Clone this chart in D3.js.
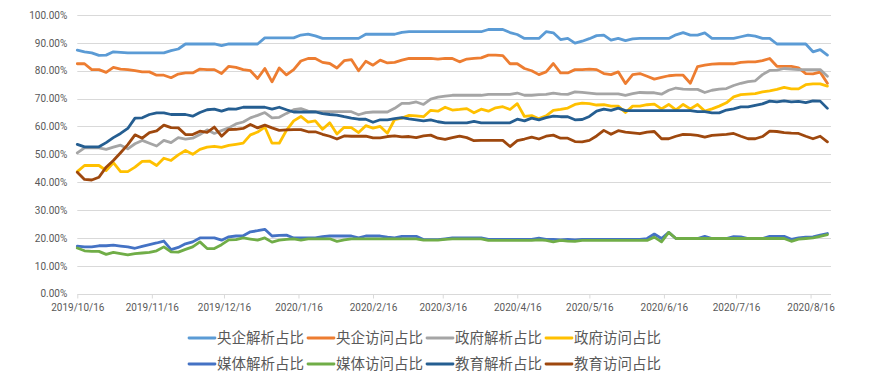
<!DOCTYPE html>
<html>
<head>
<meta charset="utf-8">
<script src="https://cdn.jsdelivr.net/npm/d3@7"></script>
<style>
  html, body { margin: 0; padding: 0; background: #fff; }
  svg { display: block; }
</style>
</head>
<body>
<div id="chart"></div>
<script>
"use strict";

/* ── Data: one value every 3 days from 2019/10/16 ── */
const startDate = "2019/10/16";
const endDate   = "2020/08/24";
const stepDays  = 3;

const tickLabels = ["2019/10/16", "2019/11/16", "2019/12/16", "2020/1/16", "2020/2/16",
                    "2020/3/16", "2020/4/16", "2020/5/16", "2020/6/16", "2020/7/16", "2020/8/16"];

const seriesNames = ["央企解析占比", "央企访问占比", "政府解析占比", "政府访问占比",
                     "媒体解析占比", "媒体访问占比", "教育解析占比", "教育访问占比"];

const centralParse = [
  87.4, 86.8, 86.4, 85.5, 85.6, 86.8, 86.6, 86.4, 86.4, 86.4,
  86.4, 86.4, 86.4, 87.2, 87.8, 89.6, 89.6, 89.6, 89.6, 89.6,
  89.0, 89.6, 89.6, 89.6, 89.6, 89.6, 91.8, 91.8, 91.8, 91.8,
  91.8, 92.8, 93.1, 92.5, 91.6, 91.6, 91.6, 91.6, 91.6, 91.6,
  93.1, 93.1, 93.1, 93.1, 93.1, 93.8, 94.0, 94.0, 94.0, 94.0,
  94.0, 94.0, 94.0, 94.0, 94.0, 94.0, 94.0, 94.8, 94.8, 94.8,
  93.7, 93.0, 91.6, 91.6, 91.6, 94.0, 93.6, 91.2, 91.6, 89.9,
  90.6, 91.5, 92.6, 92.8, 91.0, 91.6, 90.8, 91.4, 91.6, 91.6,
  91.6, 91.6, 91.6, 92.9, 93.7, 92.8, 92.8, 93.6, 91.6, 91.6,
  91.6, 91.6, 92.2, 92.8, 92.4, 91.6, 91.6, 89.6, 89.6, 89.6,
  89.6, 89.6, 86.8, 87.6, 85.6
];
const centralVisit = [
  82.5, 82.5, 80.4, 80.4, 79.4, 81.2, 80.6, 80.4, 80.0, 79.6,
  79.6, 78.4, 78.4, 77.5, 78.8, 79.2, 79.2, 80.6, 80.4, 80.4,
  79.0, 81.6, 81.2, 80.4, 80.0, 77.2, 80.8, 76.0, 81.0, 78.5,
  80.4, 83.5, 84.4, 84.4, 83.0, 82.6, 81.0, 83.6, 84.0, 80.0,
  83.4, 82.0, 83.8, 82.8, 83.0, 83.8, 84.4, 84.4, 84.4, 84.4,
  84.2, 84.4, 84.4, 83.2, 84.2, 84.4, 84.6, 85.6, 85.6, 85.4,
  82.5, 82.5, 80.8, 80.0, 78.6, 79.6, 82.6, 79.2, 79.2, 80.4,
  80.4, 80.6, 80.4, 79.0, 78.6, 79.6, 75.4, 78.6, 79.0, 78.0,
  77.0, 77.6, 78.2, 78.4, 78.4, 75.5, 81.5, 82.0, 82.4, 82.5,
  82.5, 82.5, 83.0, 83.2, 83.2, 83.6, 84.4, 81.6, 81.6, 81.6,
  81.0, 79.0, 78.9, 79.5, 75.5
];
const govParse = [
  50.5, 52.3, 52.3, 52.3, 51.8, 52.6, 53.3, 52.0, 53.8, 55.0,
  54.0, 53.0, 55.0, 54.2, 56.0, 55.5, 55.8, 57.1, 58.8, 57.5,
  58.5, 59.5, 60.9, 61.6, 63.1, 64.0, 65.0, 63.1, 63.3, 64.7,
  66.0, 66.4, 65.5, 65.3, 65.3, 65.3, 65.3, 65.3, 65.3, 64.2,
  65.0, 65.2, 65.2, 65.2, 66.5, 68.3, 68.3, 68.8, 67.9, 69.8,
  70.5, 70.9, 71.2, 71.2, 71.2, 71.2, 71.2, 71.5, 71.5, 71.5,
  71.5, 72.0, 71.2, 71.2, 71.4, 71.5, 72.0, 71.6, 71.5, 72.4,
  72.2, 72.0, 71.7, 71.7, 71.7, 71.7, 71.2, 71.8, 72.2, 72.1,
  72.1, 71.6, 73.0, 73.8, 73.4, 73.3, 73.3, 72.2, 73.0, 73.4,
  73.6, 74.7, 75.5, 76.1, 76.4, 78.6, 80.1, 80.2, 80.8, 80.6,
  80.4, 80.4, 80.4, 80.4, 78.0
];
const govVisit = [
  43.8, 46.0, 46.0, 46.0, 44.2, 47.0, 43.8, 43.8, 45.4, 47.5,
  47.6, 46.0, 48.6, 47.8, 49.8, 51.4, 50.0, 51.8, 52.6, 52.9,
  52.5, 53.2, 53.6, 54.0, 57.0, 58.0, 59.8, 54.0, 54.0, 58.6,
  62.0, 63.6, 61.6, 62.0, 59.0, 61.3, 57.3, 59.7, 59.6, 57.8,
  60.3, 59.4, 60.0, 57.6, 62.5, 63.0, 64.0, 63.8, 63.5, 65.8,
  65.5, 66.9, 65.9, 66.1, 66.4, 64.9, 66.2, 65.5, 66.7, 67.1,
  66.1, 68.2, 63.6, 63.9, 62.8, 63.8, 65.8, 66.1, 66.6, 67.9,
  68.4, 68.2, 67.7, 67.8, 67.3, 67.3, 65.0, 67.3, 67.3, 67.8,
  68.0, 66.3, 67.9, 66.0, 67.9, 66.3, 67.9, 65.5, 66.3, 67.3,
  68.5, 70.6, 71.4, 71.6, 71.8, 72.4, 72.8, 73.3, 74.0, 73.5,
  73.5, 75.0, 75.3, 75.3, 74.5
];
const mediaParse = [
  17.1, 16.8, 16.8, 17.2, 17.2, 17.4, 17.1, 16.8, 16.3, 17.0,
  17.6, 18.2, 18.9, 15.8, 16.6, 17.9, 18.6, 20.0, 20.0, 20.0,
  19.2, 20.4, 20.7, 20.8, 22.2, 22.6, 23.1, 20.7, 20.9, 21.0,
  20.0, 20.0, 20.0, 20.0, 20.5, 20.7, 20.7, 20.7, 20.7, 20.0,
  20.7, 20.7, 20.7, 20.3, 20.0, 20.6, 20.6, 20.6, 19.4, 19.4,
  19.4, 19.7, 20.0, 20.0, 20.0, 20.0, 20.0, 19.5, 19.5, 19.5,
  19.5, 19.5, 19.5, 19.5, 19.9, 19.5, 19.5, 19.3, 19.5, 19.3,
  19.5, 19.5, 19.5, 19.5, 19.5, 19.5, 19.5, 19.5, 19.5, 19.8,
  21.4, 19.8, 22.0, 19.8, 19.8, 19.8, 19.8, 20.6, 19.8, 19.8,
  19.8, 20.5, 20.4, 19.8, 19.8, 19.8, 20.6, 20.6, 20.6, 19.5,
  20.0, 20.3, 20.4, 21.0, 21.6
];
const mediaVisit = [
  16.4, 15.4, 15.2, 15.2, 14.1, 14.8, 14.4, 13.9, 14.4, 14.6,
  14.8, 15.4, 16.8, 15.0, 14.9, 15.9, 16.8, 18.6, 16.2, 16.2,
  17.6, 19.3, 19.4, 20.0, 19.6, 19.2, 20.0, 18.5, 19.2, 19.5,
  19.7, 19.2, 19.7, 19.7, 19.7, 19.7, 18.8, 19.3, 19.7, 19.7,
  19.7, 19.7, 19.7, 19.7, 19.7, 19.7, 19.7, 19.7, 19.2, 19.2,
  19.2, 19.5, 19.7, 19.7, 19.7, 19.7, 19.7, 19.1, 19.1, 19.1,
  19.1, 19.1, 19.1, 19.1, 19.3, 19.1, 18.6, 19.1, 18.9, 18.8,
  19.1, 19.1, 19.1, 19.1, 19.1, 19.1, 19.1, 19.1, 19.1, 19.1,
  20.3, 18.6, 22.0, 19.8, 19.8, 19.8, 19.8, 19.8, 19.8, 19.8,
  19.8, 19.8, 19.8, 19.8, 19.8, 19.8, 19.8, 19.8, 19.8, 18.8,
  19.6, 19.8, 20.0, 20.6, 21.2
];
const eduParse = [
  53.6, 52.7, 52.7, 52.7, 54.2, 56.0, 57.5, 59.3, 63.0, 63.1,
  64.3, 64.9, 64.9, 64.3, 64.3, 64.3, 63.7, 65.0, 66.0, 66.2,
  65.5, 66.3, 66.2, 66.9, 66.9, 66.9, 66.9, 66.2, 66.9, 66.0,
  65.2, 65.2, 65.2, 65.2, 64.6, 64.3, 64.1, 63.5, 63.0, 62.6,
  62.6, 61.5, 62.4, 62.4, 62.8, 63.2, 62.7, 62.4, 62.0, 62.4,
  61.7, 61.3, 61.3, 61.3, 61.3, 61.8, 61.3, 61.3, 61.3, 61.3,
  61.3, 62.6, 62.0, 63.0, 62.4, 63.2, 63.7, 63.5, 63.5, 62.4,
  62.5, 63.6, 65.5, 66.2, 65.8, 66.6, 65.7, 65.7, 65.7, 65.7,
  65.7, 65.7, 65.7, 65.7, 65.7, 65.7, 65.3, 65.3, 64.9, 64.9,
  65.9, 66.3, 67.0, 67.0, 67.6, 68.1, 69.1, 68.8, 69.2, 68.8,
  69.0, 68.6, 69.2, 69.1, 66.5
];
const eduVisit = [
  43.6, 41.0, 40.8, 41.8, 45.4, 47.8, 50.6, 53.5, 57.0, 55.8,
  57.8, 58.4, 60.5, 59.6, 59.5, 57.1, 57.1, 58.3, 57.9, 59.8,
  56.5, 58.9, 59.0, 59.3, 60.7, 59.5, 60.5, 59.5, 58.6, 58.8,
  58.9, 58.9, 58.1, 58.1, 57.2, 56.5, 55.5, 56.6, 56.5, 56.5,
  56.5, 55.9, 55.9, 56.4, 56.6, 56.3, 56.4, 56.0, 56.6, 56.9,
  55.8, 55.4, 56.0, 56.5, 56.0, 54.9, 55.0, 55.0, 55.0, 55.0,
  52.8, 54.9, 55.5, 56.2, 55.5, 56.5, 56.9, 55.8, 55.8, 54.6,
  54.5, 55.0, 56.6, 58.6, 57.2, 58.5, 58.0, 57.7, 57.4, 58.0,
  58.2, 55.6, 55.6, 56.5, 57.2, 57.1, 56.8, 56.2, 56.8, 57.0,
  57.2, 57.5, 56.5, 55.6, 55.6, 56.4, 58.3, 58.2, 57.8, 57.6,
  57.5, 56.5, 55.6, 56.5, 54.5
];

const seriesValues = [centralParse, centralVisit, govParse, govVisit,
                      mediaParse, mediaVisit, eduParse, eduVisit];
const seriesColours = ["#5B9BD5", "#ED7D31", "#A5A5A5", "#FFC000",
                       "#4472C4", "#70AD47", "#255E91", "#9E480E"];

/* ── Dimensions ── */
const totalW = 872, totalH = 385;
const plot = { left: 77.3, right: 829.8, gridRight: 831, top: 15, bottom: 293.7 };

const parse = d3.utcParse("%Y/%m/%d");
const start = parse(startDate);
const dates = centralParse.map((_, i) => d3.utcDay.offset(start, i * stepDays));

const x = d3.scaleUtc().domain([start, parse(endDate)]).range([plot.left, plot.right]);
const y = d3.scaleLinear().domain([0, 100]).range([plot.bottom, plot.top]);

const svg = d3.select("#chart").append("svg")
  .attr("width", totalW).attr("height", totalH)
  .style("background", "#fff");

/* ── Gridlines ── */
svg.append("g")
  .selectAll("line")
  .data(d3.range(0, 101, 10))
  .join("line")
  .attr("x1", plot.left).attr("x2", plot.gridRight)
  .attr("y1", d => Math.round(y(d)) + 0.5).attr("y2", d => Math.round(y(d)) + 0.5)
  .attr("stroke", "#D9D9D9").attr("stroke-width", 1);

/* ── Y axis labels ── */
svg.append("g")
  .attr("transform", `translate(${plot.left},0)`)
  .call(d3.axisLeft(y).tickValues(d3.range(0, 101, 10)).tickSize(0).tickPadding(10)
    .tickFormat(d => d.toFixed(2) + "%"))
  .call(g => {
    g.select(".domain").remove();
    g.selectAll(".tick text").attr("fill", "#595959")
      .attr("font-family", "Roboto, 'Liberation Sans', sans-serif").attr("font-size", "10px");
  });

/* ── X axis ── */
svg.append("g")
  .attr("transform", `translate(0,${Math.round(plot.bottom) + 0.5})`)
  .call(d3.axisBottom(x).tickValues(tickLabels.map(parse)).tickSize(4).tickSizeOuter(0)
    .tickPadding(5).tickFormat((d, i) => tickLabels[i]))
  .call(g => {
    g.select(".domain").remove();
    g.selectAll(".tick line").attr("stroke", "#D9D9D9");
    g.selectAll(".tick text").attr("fill", "#595959")
      .attr("font-family", "Roboto, 'Liberation Sans', sans-serif").attr("font-size", "10px");
  });

/* ── Lines ── */
const line = d3.line()
  .x((d, i) => x(dates[i]))
  .y(d => y(d));

svg.append("g")
  .selectAll("path")
  .data(seriesValues)
  .join("path")
  .attr("d", d => line(d))
  .attr("fill", "none")
  .attr("stroke", (d, i) => seriesColours[i])
  .attr("stroke-width", 2.8)
  .attr("stroke-linejoin", "round")
  .attr("stroke-linecap", "round");

/* ── Legend ── */
const legend = svg.append("g");
seriesNames.forEach((name, i) => {
  const col = i % 4, row = Math.floor(i / 4);
  const g = legend.append("g")
    .attr("transform", `translate(${189 + col * 119},${338 + row * 26})`);
  g.append("line").attr("x1", 0).attr("x2", 26).attr("y1", 0).attr("y2", 0)
    .attr("stroke", seriesColours[i]).attr("stroke-width", 2.8).attr("stroke-linecap", "round");
  g.append("text").attr("x", 28).attr("y", 0).attr("dy", "0.36em")
    .attr("fill", "#595959")
    .attr("font-family", "'Noto Sans CJK SC', sans-serif").attr("font-size", "14.5px")
    .text(name);
});
</script>
</body>
</html>
